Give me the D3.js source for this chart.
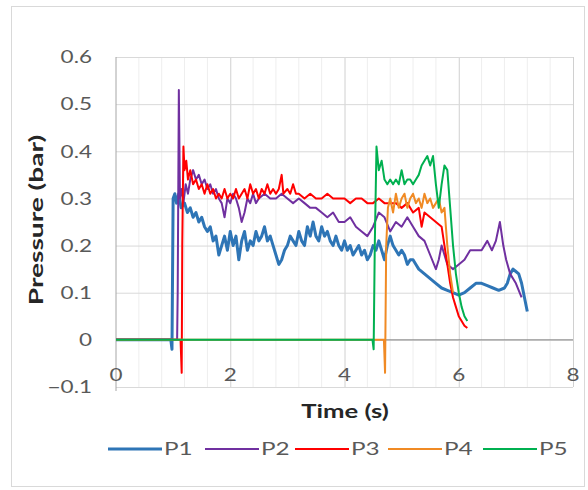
<!DOCTYPE html>
<html>
<head>
<meta charset="utf-8">
<script src="https://cdn.jsdelivr.net/npm/d3@7"></script>
<style>
  body { margin: 0; background: #fff; }
  svg { font-family: Lato, "Open Sans", sans-serif; }
</style>
</head>
<body>
<div id="chart"></div>
<script>
// time (s), pressure (bar)
const p1 = [[0,0],[0.96,0],[0.98,-0.02],[1.0,0.3],[1.03,0.31],[1.06,0.29],[1.1,0.31],[1.14,0.28],[1.2,0.29],[1.25,0.27],[1.3,0.28],[1.35,0.26],[1.4,0.27],[1.45,0.25],[1.5,0.26],[1.55,0.24],[1.6,0.23],[1.65,0.24],[1.7,0.21],[1.75,0.22],[1.8,0.18],[1.85,0.2],[1.9,0.22],[1.95,0.19],[2.0,0.23],[2.05,0.2],[2.1,0.22],[2.15,0.17],[2.2,0.21],[2.25,0.23],[2.3,0.19],[2.35,0.21],[2.4,0.2],[2.45,0.23],[2.5,0.21],[2.55,0.22],[2.6,0.24],[2.65,0.21],[2.7,0.22],[2.75,0.2],[2.8,0.18],[2.85,0.16],[2.9,0.17],[2.95,0.19],[3.0,0.2],[3.05,0.22],[3.1,0.21],[3.15,0.2],[3.2,0.23],[3.25,0.21],[3.3,0.2],[3.35,0.24],[3.4,0.22],[3.45,0.25],[3.5,0.22],[3.55,0.21],[3.6,0.24],[3.65,0.22],[3.7,0.23],[3.75,0.21],[3.8,0.2],[3.85,0.22],[3.9,0.2],[3.95,0.19],[4.0,0.21],[4.05,0.19],[4.1,0.2],[4.15,0.18],[4.2,0.19],[4.25,0.2],[4.3,0.18],[4.35,0.19],[4.4,0.17],[4.45,0.18],[4.5,0.2],[4.55,0.19],[4.6,0.21],[4.65,0.19],[4.7,0.17],[4.75,0.2],[4.8,0.22],[4.85,0.2],[4.9,0.19],[4.95,0.18],[5.0,0.19],[5.05,0.18],[5.1,0.16],[5.15,0.17],[5.2,0.17],[5.25,0.16],[5.3,0.15],[5.4,0.14],[5.5,0.13],[5.6,0.12],[5.7,0.11],[5.8,0.105],[5.9,0.1],[6.0,0.095],[6.1,0.1],[6.2,0.11],[6.3,0.12],[6.4,0.12],[6.5,0.115],[6.6,0.11],[6.7,0.105],[6.8,0.11],[6.85,0.12],[6.9,0.14],[6.95,0.15],[7.0,0.145],[7.05,0.14],[7.1,0.12],[7.15,0.09],[7.2,0.06]];
const p2 = [[0,0],[1.07,0],[1.08,0.1],[1.1,0.53],[1.12,0.3],[1.15,0.32],[1.18,0.29],[1.22,0.33],[1.26,0.31],[1.3,0.34],[1.35,0.36],[1.4,0.34],[1.45,0.35],[1.5,0.33],[1.55,0.34],[1.6,0.32],[1.65,0.33],[1.7,0.31],[1.75,0.32],[1.8,0.3],[1.85,0.29],[1.9,0.26],[1.95,0.3],[2.0,0.29],[2.05,0.31],[2.1,0.3],[2.15,0.28],[2.2,0.25],[2.25,0.27],[2.3,0.3],[2.35,0.29],[2.4,0.31],[2.45,0.29],[2.5,0.3],[2.6,0.31],[2.7,0.3],[2.8,0.3],[2.9,0.31],[3.0,0.3],[3.1,0.29],[3.2,0.3],[3.3,0.29],[3.4,0.28],[3.5,0.28],[3.6,0.27],[3.7,0.26],[3.8,0.27],[3.9,0.25],[4.0,0.25],[4.1,0.26],[4.2,0.24],[4.3,0.23],[4.4,0.22],[4.5,0.24],[4.6,0.27],[4.7,0.26],[4.8,0.23],[4.9,0.25],[5.0,0.24],[5.1,0.26],[5.2,0.24],[5.3,0.22],[5.4,0.21],[5.5,0.18],[5.6,0.15],[5.65,0.17],[5.7,0.2],[5.75,0.18],[5.8,0.16],[5.9,0.15],[6.0,0.16],[6.1,0.17],[6.2,0.19],[6.3,0.19],[6.4,0.19],[6.5,0.21],[6.58,0.19],[6.65,0.21],[6.72,0.25],[6.78,0.2],[6.83,0.17],[6.9,0.14],[7.0,0.12],[7.1,0.09]];
const p3 = [[0,0],[1.13,0],[1.15,-0.07],[1.16,0.2],[1.18,0.41],[1.2,0.36],[1.23,0.38],[1.26,0.34],[1.3,0.36],[1.35,0.33],[1.4,0.34],[1.45,0.32],[1.5,0.33],[1.55,0.31],[1.6,0.33],[1.65,0.31],[1.7,0.32],[1.75,0.3],[1.8,0.31],[1.85,0.3],[1.9,0.32],[1.95,0.3],[2.0,0.31],[2.05,0.3],[2.1,0.32],[2.15,0.3],[2.2,0.31],[2.25,0.32],[2.3,0.3],[2.35,0.33],[2.4,0.31],[2.45,0.32],[2.5,0.3],[2.55,0.32],[2.6,0.31],[2.65,0.33],[2.7,0.31],[2.75,0.32],[2.8,0.31],[2.85,0.32],[2.9,0.35],[2.93,0.31],[3.0,0.32],[3.05,0.31],[3.1,0.33],[3.15,0.31],[3.2,0.31],[3.3,0.3],[3.4,0.31],[3.5,0.3],[3.6,0.3],[3.7,0.31],[3.8,0.3],[3.9,0.3],[4.0,0.3],[4.1,0.29],[4.2,0.3],[4.3,0.3],[4.4,0.29],[4.5,0.29],[4.6,0.3],[4.7,0.29],[4.8,0.29],[4.9,0.29],[5.0,0.28],[5.1,0.29],[5.2,0.27],[5.3,0.28],[5.35,0.24],[5.4,0.27],[5.5,0.26],[5.6,0.25],[5.7,0.24],[5.75,0.2],[5.8,0.16],[5.85,0.12],[5.9,0.09],[5.95,0.07],[6.0,0.05],[6.05,0.04],[6.1,0.03],[6.15,0.025]];
const p4 = [[0,0],[4.69,0],[4.71,-0.07],[4.73,0.2],[4.76,0.28],[4.8,0.3],[4.85,0.27],[4.9,0.31],[4.95,0.28],[5.0,0.3],[5.05,0.31],[5.1,0.28],[5.15,0.3],[5.2,0.31],[5.25,0.29],[5.3,0.3],[5.35,0.28],[5.4,0.31],[5.45,0.29],[5.5,0.3],[5.55,0.28],[5.6,0.29],[5.65,0.3],[5.7,0.27],[5.75,0.28],[5.8,0.2],[5.85,0.14],[5.9,0.1]];
const p5 = [[0,0],[4.49,0],[4.51,-0.02],[4.53,0.2],[4.56,0.41],[4.6,0.36],[4.65,0.38],[4.7,0.34],[4.75,0.33],[4.8,0.34],[4.85,0.33],[4.9,0.34],[4.95,0.33],[5.0,0.36],[5.05,0.33],[5.1,0.34],[5.15,0.34],[5.2,0.33],[5.25,0.34],[5.3,0.35],[5.35,0.37],[5.4,0.38],[5.45,0.39],[5.5,0.37],[5.55,0.39],[5.6,0.33],[5.65,0.28],[5.7,0.33],[5.75,0.37],[5.8,0.36],[5.85,0.28],[5.9,0.2],[5.95,0.14],[6.0,0.1],[6.05,0.07],[6.1,0.05],[6.15,0.04]];

const seriesNames = ['P1', 'P2', 'P3', 'P4', 'P5'];
const seriesData = [p1, p2, p3, p4, p5];
const colors = ['#2E75B6', '#7030A0', '#FF0000', '#F08A24', '#00B050'];
const widths = [3, 2, 2, 2, 2];

const xTicks = [0, 2, 4, 6, 8];
const xMinorTicks = [0.4, 0.8, 1.2, 1.6, 2.4, 2.8, 3.2, 3.6, 4.4, 4.8, 5.2, 5.6, 6.4, 6.8, 7.2, 7.6];
const yTicks = [-0.1, 0, 0.1, 0.2, 0.3, 0.4, 0.5, 0.6];

const W = 588, H = 490;
const margin = { top: 57, right: 15, bottom: 103, left: 116 };
const width = W - margin.left - margin.right;
const height = H - margin.top - margin.bottom;

// the source picture is stretched sideways a bit, so text is widened too
const SX = 1.25;

const svg = d3.select('#chart').append('svg')
  .attr('width', W)
  .attr('height', H);

function addText(parent, x, y, str, opts) {
  const t = parent.append('g')
    .attr('transform', `translate(${x}, ${y})${opts.rotate ? ' rotate(-90)' : ''}`)
    .append('text')
    .attr('transform', `scale(${opts.sx || SX}, 1)`)
    .attr('dy', '0.35em')
    .attr('text-anchor', opts.anchor || 'middle')
    .attr('fill', opts.fill || '#595959')
    .style('font-size', (opts.size || 18) + 'px')
    .text(str);
  if (opts.bold) t.attr('font-weight', 'bold');
  return t;
}

// outer chart frame
svg.append('rect')
  .attr('x', 11.5).attr('y', 6.5)
  .attr('width', 573).attr('height', 480)
  .attr('fill', '#fff')
  .attr('stroke', '#D9D9D9');

const g = svg.append('g').attr('transform', `translate(${margin.left}, ${margin.top})`);

const xScale = d3.scaleLinear().domain([0, 8]).range([0, width]);
const yScale = d3.scaleLinear().domain([-0.1, 0.6]).range([height, 0]);

// minor vertical grid
g.append('g')
  .selectAll('line')
  .data(xMinorTicks)
  .enter().append('line')
  .attr('x1', d => xScale(d)).attr('x2', d => xScale(d))
  .attr('y1', 0).attr('y2', height)
  .attr('stroke', '#EEEEEE');

// major vertical grid
g.append('g')
  .attr('class', 'grid grid--x')
  .call(d3.axisBottom(xScale).tickValues(xTicks.slice(1)).tickSize(height).tickFormat(''))
  .call(s => s.select('.domain').remove())
  .selectAll('line').attr('stroke', '#D0D0D0');

// horizontal grid
g.append('g')
  .attr('class', 'grid grid--y')
  .call(d3.axisLeft(yScale).tickValues(yTicks).tickSize(-width).tickFormat(''))
  .call(s => s.select('.domain').remove())
  .selectAll('line').attr('stroke', '#D9D9D9');

// y axis line + labels
g.append('line')
  .attr('x1', 0).attr('x2', 0)
  .attr('y1', 0).attr('y2', height + 4)
  .attr('stroke', '#A6A6A6');

yTicks.forEach(d => {
  addText(g, -24, yScale(d), d === 0 ? '0' : d3.format('.1f')(d), { anchor: 'end', size: 18 });
});

// x axis crosses at y = 0
g.append('line')
  .attr('x1', 0).attr('x2', width)
  .attr('y1', yScale(0)).attr('y2', yScale(0))
  .attr('stroke', '#868686');

xTicks.forEach(d => {
  addText(g, xScale(d), yScale(0) + 35, d, { size: 18 });
});

// series
const line = d3.line()
  .curve(d3.curveLinear)
  .x(d => xScale(d[0]))
  .y(d => yScale(d[1]));

g.append('g')
  .selectAll('path')
  .data(seriesData)
  .enter().append('path')
  .attr('d', d => line(d))
  .attr('fill', 'none')
  .attr('stroke', (d, i) => colors[i])
  .attr('stroke-width', (d, i) => widths[i])
  .attr('stroke-linejoin', 'round');

// axis titles
addText(svg, 345, 411, 'Time (s)', { bold: true, fill: '#262626', size: 19, sx: 1.35 });
addText(svg, 36, 220, 'Pressure (bar)', { bold: true, fill: '#262626', size: 19, sx: 1.48, rotate: true });

// legend
const legendX = [108, 205, 295, 388, 483];
seriesNames.forEach((name, i) => {
  const lg = svg.append('g').attr('transform', `translate(${legendX[i]}, 449)`);
  lg.append('line')
    .attr('x1', 0).attr('x2', 54)
    .attr('y1', 0).attr('y2', 0)
    .attr('stroke', colors[i])
    .attr('stroke-width', widths[i]);
  addText(lg, 56, 0, name, { anchor: 'start', size: 18, sx: 1.35 });
});
</script>
</body>
</html>
